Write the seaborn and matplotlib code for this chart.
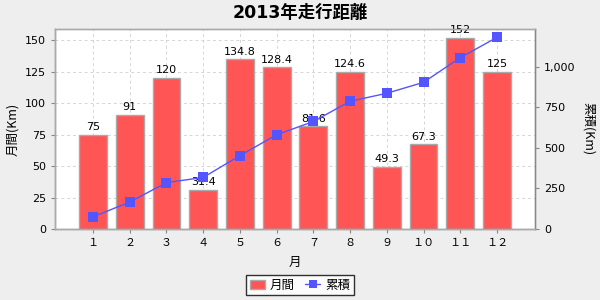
import matplotlib
matplotlib.use("Agg")
import matplotlib.pyplot as plt
import matplotlib.ticker as mticker
from matplotlib.patches import Patch
from matplotlib.lines import Line2D
import numpy as np
import pandas as pd
import seaborn as sns

months = ["１", "２", "３", "４", "５", "６", "７", "８", "９", "１０", "１１", "１２"]
monthly = [75, 91, 120, 31.4, 134.8, 128.4, 81.6, 124.6, 49.3, 67.3, 152, 125]
cumulative = [75, 166, 286, 317.4, 452.2, 580.6, 662.2, 786.8, 836.1, 903.4, 1055.4, 1180.4]
value_labels = ["75", "91", "120", "31.4", "134.8", "128.4", "81.6", "124.6", "49.3", "67.3", "152", "125"]

sns.set_theme(style="white")
plt.rcParams['font.family'] = ['DejaVu Sans', 'Noto Sans CJK JP']
plt.rcParams['text.color'] = 'black'
plt.rcParams['axes.labelcolor'] = 'black'

bar_color = "#FF5555"
line_color = "#5555FF"

fig = plt.figure(figsize=(6, 3), dpi=100, facecolor="#EEEEEE")
ax = fig.add_axes([55/600, 71/300, 480/600, 200/300])
ax.set_facecolor("white")

df = pd.DataFrame({"month": months, "monthly": monthly, "cumulative": cumulative})
sns.barplot(data=df, x="month", y="monthly", color=bar_color, saturation=1,
            width=0.76, edgecolor="#AAAAAA", linewidth=1, ax=ax, zorder=2)

for i, (v, t) in enumerate(zip(monthly, value_labels)):
    ax.annotate(t, (i, v), xytext=(0, 2), textcoords="offset points",
                ha="center", va="bottom", fontsize=8, color="black", zorder=5)

ax.set_ylim(0, 159)
ax.set_yticks([0, 25, 50, 75, 100, 125, 150])
ax.set_xlim(-1.035, 11 + 1.035)
ax.grid(True, axis="both", linestyle=(0, (3, 3)), color="#D5D5D5", linewidth=0.7, zorder=0)
ax.set_axisbelow(True)
ax.set_ylabel("月間(Km)", fontsize=9, family=['Noto Sans CJK JP'], color="black", labelpad=4)
ax.set_xlabel("月", fontsize=9, family=['Noto Sans CJK JP'], color="black", labelpad=6)
ax.tick_params(axis="both", labelsize=8, labelcolor="black", length=3, width=0.8, direction="out",
               left=True, bottom=True, color="#888888")
for lbl in ax.get_xticklabels():
    lbl.set_family(['DejaVu Sans', 'Noto Sans CJK JP'])

ax2 = ax.twinx()
sns.lineplot(x=np.arange(len(months)), y=cumulative, color=line_color, marker="s",
             markersize=7, markeredgewidth=0, linewidth=1, ax=ax2, zorder=4)
ax2.set_ylim(0, 1232)
ax2.set_yticks([0, 250, 500, 750, 1000])
ax2.yaxis.set_major_formatter(mticker.FuncFormatter(lambda v, p: f"{int(v):,}"))
ax2.set_ylabel("累積(Km)", fontsize=9, family=['Noto Sans CJK JP'], color="black",
               rotation=-90, labelpad=14)
ax2.tick_params(axis="y", labelsize=8, labelcolor="black", length=3, width=0.8, right=True,
                color="#888888")
ax2.set_xlim(-1.035, 11 + 1.035)
ax2.grid(False)

for a in (ax, ax2):
    for s in a.spines.values():
        s.set_color("#AAAAAA")
        s.set_linewidth(1)
ax.spines["left"].set_color("#888888")
ax.spines["bottom"].set_color("#888888")
ax2.spines["right"].set_color("#888888")

fig.suptitle("2013年走行距離", y=0.985, fontsize=12.5, fontweight="bold", color="black",
             family=['DejaVu Sans', 'Noto Sans CJK JP'])

handles = [Patch(facecolor=bar_color, edgecolor="#AAAAAA", linewidth=1),
           Line2D([0], [0], color=line_color, marker="s", markersize=6, markeredgewidth=0, linewidth=1)]
leg = fig.legend(handles, ["月間", "累積"], loc="center", bbox_to_anchor=(0.5, 15/300), ncol=2,
                 frameon=True, fancybox=False, edgecolor="black",
                 prop={'family': ['Noto Sans CJK JP'], 'size': 9},
                 handlelength=1.2, handletextpad=0.4, columnspacing=0.8,
                 borderpad=0.3, facecolor="white")
leg.get_frame().set_linewidth(1)

fig.savefig("out.png", dpi=100, facecolor=fig.get_facecolor())
